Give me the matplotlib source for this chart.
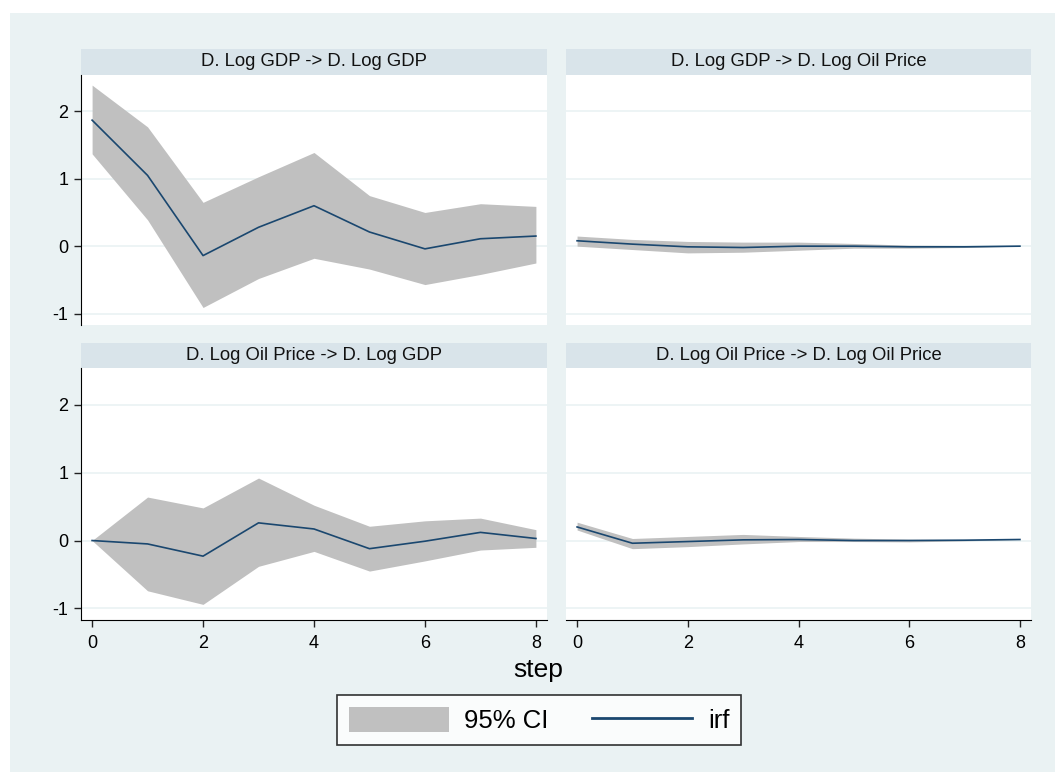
import matplotlib
matplotlib.use('Agg')
import matplotlib.pyplot as plt
from matplotlib.patches import Rectangle, Patch
from matplotlib.lines import Line2D

plt.rcParams['font.family'] = ['Liberation Sans', 'DejaVu Sans']
plt.rcParams['axes.unicode_minus'] = False

# impulse response data
steps = [0, 1, 2, 3, 4, 5, 6, 7, 8]
titles = ['D. Log GDP -> D. Log GDP', 'D. Log GDP -> D. Log Oil Price',
          'D. Log Oil Price -> D. Log GDP', 'D. Log Oil Price -> D. Log Oil Price']

irf_gdp_gdp = [1.87, 1.05, -0.14, 0.28, 0.60, 0.21, -0.04, 0.11, 0.15]
lo_gdp_gdp = [1.37, 0.39, -0.91, -0.48, -0.18, -0.34, -0.57, -0.42, -0.25]
hi_gdp_gdp = [2.39, 1.77, 0.65, 1.03, 1.39, 0.75, 0.50, 0.63, 0.59]

irf_gdp_oil = [0.08, 0.03, -0.01, -0.02, 0.0, 0.0, -0.01, -0.01, 0.0]
lo_gdp_oil = [0.0, -0.05, -0.10, -0.09, -0.06, -0.03, -0.03, -0.02, 0.0]
hi_gdp_oil = [0.15, 0.10, 0.07, 0.06, 0.06, 0.04, 0.015, 0.01, 0.0]

irf_oil_gdp = [0.0, -0.05, -0.23, 0.26, 0.17, -0.12, -0.01, 0.12, 0.03]
lo_oil_gdp = [0.0, -0.74, -0.94, -0.38, -0.16, -0.45, -0.30, -0.14, -0.10]
hi_oil_gdp = [0.0, 0.64, 0.48, 0.92, 0.52, 0.21, 0.29, 0.33, 0.16]

irf_oil_oil = [0.20, -0.04, -0.015, 0.01, 0.015, 0.0, 0.0, 0.005, 0.015]
lo_oil_oil = [0.155, -0.12, -0.09, -0.05, -0.015, -0.015, -0.02, -0.005, 0.015]
hi_oil_oil = [0.27, 0.03, 0.06, 0.09, 0.06, 0.035, 0.02, 0.015, 0.015]

series = [(irf_gdp_gdp, lo_gdp_gdp, hi_gdp_gdp),
          (irf_gdp_oil, lo_gdp_oil, hi_gdp_oil),
          (irf_oil_gdp, lo_oil_gdp, hi_oil_gdp),
          (irf_oil_oil, lo_oil_oil, hi_oil_oil)]

bg = '#eaf2f3'
strip_col = '#d9e4ea'
band_col = '#c0c0c0'
line_col = '#1a476f'

W, H = 1055, 773


def box(x0, y0, x1, y1):
    return [x0 / W, 1 - y1 / H, (x1 - x0) / W, (y1 - y0) / H]


fig = plt.figure(figsize=(W / 100, H / 100), dpi=100, facecolor='white')
fig.patches.append(Rectangle((10 / W, 1 / H), 1 - 10 / W, 1 - 14 / H, transform=fig.transFigure,
                             facecolor=bg, edgecolor='none', zorder=-10))

cols = [(81, 547), (566, 1031)]
rows = [(49, 75, 325), (343, 368, 620)]

for i, (irf, lo, hi) in enumerate(series):
    r, c = divmod(i, 2)
    x0, x1 = cols[c]
    s0, p0, p1 = rows[r]

    st = fig.add_axes(box(x0, s0, x1, p0))
    st.set_facecolor(strip_col)
    st.set_xticks([])
    st.set_yticks([])
    for sp in st.spines.values():
        sp.set_visible(False)
    st.text(0.5, 0.5, titles[i], ha='center', va='center', fontsize=13.3, color='#111111')

    ax = fig.add_axes(box(x0, p0, x1, p1))
    ax.set_facecolor('white')
    ax.fill_between(steps, lo, hi, color=band_col, linewidth=0, zorder=2)
    ax.plot(steps, irf, color=line_col, linewidth=1.2, zorder=3)
    ax.set_xlim(-0.2, 8.2)
    ax.set_ylim(-1.17, 2.54)
    ax.set_yticks([-1, 0, 1, 2])
    ax.set_xticks([0, 2, 4, 6, 8])
    ax.grid(axis='y', color=bg, linewidth=1.2, zorder=1)
    ax.set_axisbelow(True)
    for sp in ['top', 'right']:
        ax.spines[sp].set_visible(False)
    ax.tick_params(length=5, width=1, labelsize=13, color='#222222', pad=4)
    if c == 1:
        ax.spines['left'].set_visible(False)
        ax.tick_params(axis='y', left=False, labelleft=False)
    if r == 0:
        ax.spines['bottom'].set_visible(False)
        ax.tick_params(axis='x', bottom=False, labelbottom=False)
    else:
        ax.tick_params(axis='x', pad=6)

fig.text(538 / W, 1 - 670 / H, 'step', ha='center', va='center', fontsize=19)

handles = [Patch(facecolor=band_col, edgecolor='none'),
           Line2D([0], [0], color=line_col, linewidth=2)]
leg = fig.legend(handles, ['95% CI', 'irf'], loc='center', bbox_to_anchor=(539 / W, 1 - 720 / H),
                 ncol=2, fontsize=18.5, frameon=True, fancybox=False, edgecolor='black',
                 handlelength=3.9, handleheight=1.1, handletextpad=0.6, columnspacing=1.7,
                 borderpad=0.45, borderaxespad=0)
leg.get_frame().set_linewidth(1.2)

fig.savefig('out.png', dpi=100, facecolor='white')
